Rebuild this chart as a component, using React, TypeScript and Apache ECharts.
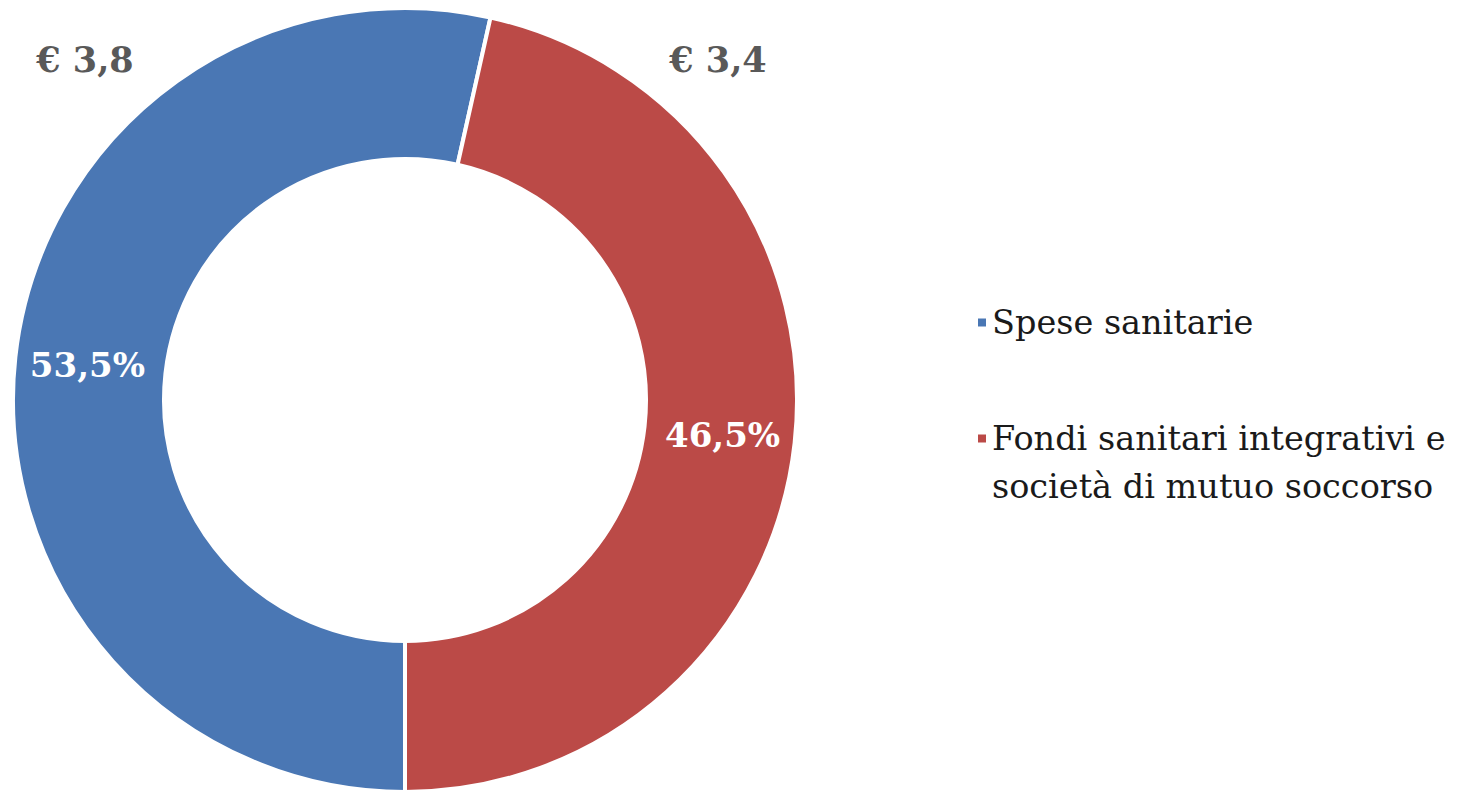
import React, { useEffect, useRef } from "react";
import * as echarts from "echarts";

const categories = ["Spese sanitarie", "Fondi sanitari integrativi e\nsocietà di mutuo soccorso"];
const shares = [53.5, 46.5];
const shareLabels = ["53,5%", "46,5%"];
const euroLabels = ["€ 3,8", "€ 3,4"];
const colors = ["#4A77B4", "#BB4A47"];

const FONT = "'DejaVu Serif', serif";

export default function App() {
  const ref = useRef<HTMLDivElement>(null);
  useEffect(() => {
    document.body.style.margin = "0";
    const chart = echarts.init(ref.current!, null, { renderer: "svg" });
    chart.setOption({
      animation: false,
      backgroundColor: "#ffffff",
      legend: {
        orient: "vertical",
        left: 976,
        top: 305.5,
        padding: 0,
        itemGap: 34,
        itemWidth: 10,
        itemHeight: 10,
        icon: "rect",
        data: categories,
        formatter: (name: string) => {
          const lines = name.split("\n");
          if (lines.length === 1) return `{a|${lines[0]}}`;
          return `{p| }\n` + lines.map((l) => `{a|${l}}`).join("\n");
        },
        textStyle: {
          rich: {
            a: { fontFamily: FONT, fontSize: 33.5, lineHeight: 48, color: "#1a1a1a" },
            p: { fontFamily: FONT, fontSize: 33.5, lineHeight: 48 },
          },
        },
      },
      graphic: euroLabels.map((t, i) => ({
        type: "text",
        x: i === 0 ? 85 : 718,
        y: 59,
        style: {
          text: t,
          fill: "#595959",
          font: `bold 35px ${FONT}`,
          textAlign: "center",
          textVerticalAlign: "middle",
        },
      })),
      series: [
        {
          type: "pie",
          center: [405, 400],
          radius: [241, 392],
          startAngle: -90,
          clockwise: true,
          avoidLabelOverlap: false,
          itemStyle: { borderColor: "#ffffff", borderWidth: 4 },
          label: {
            show: true,
            position: "inside",
            color: "#ffffff",
            fontFamily: FONT,
            fontWeight: "bold",
            fontSize: 34,
            formatter: (p: any) => shareLabels[p.dataIndex],
          },
          labelLine: { show: false },
          emphasis: { disabled: true },
          data: categories.map((name, i) => ({
            name,
            value: shares[i],
            itemStyle: { color: colors[i] },
          })),
        },
      ],
    });
    return () => chart.dispose();
  }, []);
  return <div ref={ref} style={{ width: 1458, height: 793 }} />;
}
